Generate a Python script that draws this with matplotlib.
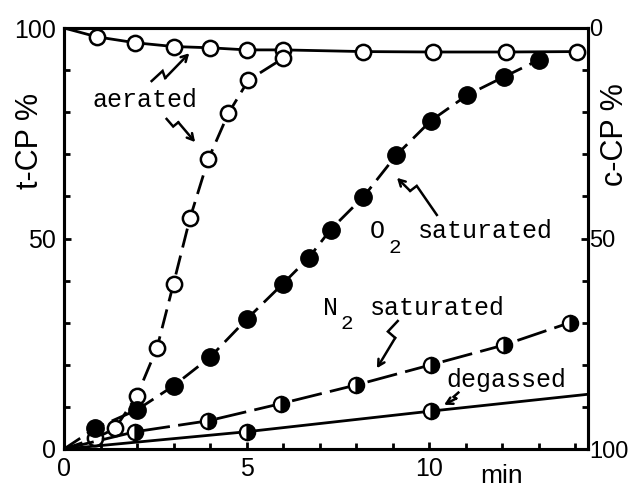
import matplotlib
matplotlib.use('Agg')
import matplotlib.pyplot as plt
from matplotlib.ticker import MultipleLocator, FixedLocator

# ---- data (time in min, percent) ----
aer_top_t = [0, 0.9, 1.95, 3.0, 4.0, 5.0, 6.0, 8.2, 10.1, 12.1, 14.05]
aer_top_v = [100, 97.9, 96.5, 95.6, 95.3, 94.8, 94.8, 94.4, 94.3, 94.3, 94.4]
aer_rise_t = [0, 0.85, 1.4, 2.0, 2.55, 3.0, 3.45, 3.95, 4.5, 5.05, 6.0]
aer_rise_v = [0, 2.5, 4.9, 12.7, 24.1, 39.3, 54.8, 68.8, 79.7, 87.6, 92.8]
o2_t = [0, 0.85, 2.0, 3.0, 4.0, 5.0, 6.0, 6.7, 7.3, 8.2, 9.1, 10.05, 11.05, 12.05, 13.0]
o2_v = [0, 4.9, 9.3, 15.0, 21.8, 30.8, 39.3, 45.4, 52.1, 59.9, 69.8, 78.0, 84.1, 88.4, 92.4]
n2_t = [0, 1.95, 3.95, 5.95, 8.0, 10.05, 12.05, 13.85]
n2_v = [0, 4.1, 6.7, 10.8, 15.2, 20.0, 24.7, 30.0]
deg_t = [0, 5.0, 10.05, 14.35]
deg_v = [0, 4.1, 9.0, 13.0]

x_ticks = [0, 5, 10]
y_ticks = [0, 50, 100]

SANS = ['Liberation Sans', 'DejaVu Sans']
MONO = ['Liberation Mono', 'DejaVu Sans Mono']

fig = plt.figure(figsize=(6.33, 4.91), dpi=100)
ax = fig.add_axes([64/633, 42/491, 524/633, 421/491])
ax.set_xlim(0, 14.35)
ax.set_ylim(0, 100)

lw = 2.0
# aerated top (open circles, solid)
ax.plot(aer_top_t, aer_top_v, '-', color='black', lw=lw, marker='o', ms=11,
        mfc='white', mec='black', mew=1.8, markevery=list(range(1, len(aer_top_t))), zorder=3)
# aerated rising (open circles, dashed)
ax.plot(aer_rise_t, aer_rise_v, color='black', lw=lw, dashes=(7, 3), marker='o', ms=11,
        mfc='white', mec='black', mew=1.8, markevery=list(range(1, len(aer_rise_t))), zorder=3)
# O2 saturated (filled, dashed)
ax.plot(o2_t, o2_v, color='black', lw=lw, dashes=(7, 3), marker='o', ms=12.5,
        mfc='black', mec='black', mew=1, markevery=list(range(1, len(o2_t))), zorder=3)
# N2 saturated (half filled, dashed)
ax.plot(n2_t, n2_v, color='black', lw=lw, dashes=(11, 3), marker='o', ms=11,
        fillstyle='right', mfc='black', mfcalt='white', mec='black', mew=1.6,
        markevery=list(range(1, len(n2_t))), zorder=3)
# degassed (half filled, solid)
ax.plot(deg_t, deg_v, '-', color='black', lw=lw, marker='o', ms=11,
        fillstyle='right', mfc='black', mfcalt='white', mec='black', mew=1.6,
        markevery=[1, 2], zorder=3)

# ---- zigzag arrows ----
arrows = [
    [(2.40, 87.4), (2.70, 89.8), (2.77, 88.1), (3.43, 94.0)],
    [(2.81, 78.4), (2.99, 76.6), (3.13, 77.6), (3.59, 72.9)],
    [(10.21, 55.6), (9.66, 62.5), (9.48, 61.3), (9.12, 64.4)],
    [(9.14, 30.4), (8.87, 27.9), (9.07, 26.4), (8.57, 19.2)],
    [(10.80, 13.4), (10.67, 12.4), (10.74, 12.0), (10.41, 10.5)],
]
for pts in arrows:
    xs = [p[0] for p in pts[:-1]]
    ys = [p[1] for p in pts[:-1]]
    ax.plot(xs, ys, '-', color='black', lw=1.8, solid_joinstyle='miter', zorder=4)
    ax.annotate('', xy=pts[-1], xytext=pts[-2],
                arrowprops=dict(arrowstyle='->,head_length=0.45,head_width=0.25',
                                lw=1.8, color='black', shrinkA=0, shrinkB=0), zorder=4)

# ---- annotation text ----
fs = 18
ax.text(2.22, 81.2, 'aerated', family=MONO, fontsize=fs, ha='center', va='baseline')
ax.text(8.38, 50.1, 'O', family=MONO, fontsize=fs, ha='left', va='baseline')
ax.text(8.88, 46.6, '2', family=MONO, fontsize=15, ha='left', va='baseline')
ax.text(9.70, 50.1, 'saturated', family=MONO, fontsize=fs, ha='left', va='baseline')
ax.text(7.10, 31.8, 'N', family=MONO, fontsize=fs, ha='left', va='baseline')
ax.text(7.56, 28.4, '2', family=MONO, fontsize=15, ha='left', va='baseline')
ax.text(8.38, 31.8, 'saturated', family=MONO, fontsize=fs, ha='left', va='baseline')
ax.text(10.48, 14.8, 'degassed', family=MONO, fontsize=fs, ha='left', va='baseline')

# ---- axes styling ----
for s in ax.spines.values():
    s.set_linewidth(2.2)

ax.xaxis.set_major_locator(FixedLocator(x_ticks))
ax.xaxis.set_minor_locator(MultipleLocator(1))
ax.yaxis.set_major_locator(FixedLocator(y_ticks))
ax.yaxis.set_minor_locator(MultipleLocator(10))
ax.tick_params(which='both', direction='in', width=2, top=False, right=False)
ax.tick_params(which='major', length=5, labelsize=18, pad=6)
ax.tick_params(which='minor', length=4)
for lab in ax.get_xticklabels() + ax.get_yticklabels():
    lab.set_family(SANS)

ax2 = ax.twinx()
ax2.set_ylim(100, 0)
ax2.yaxis.set_major_locator(FixedLocator(y_ticks))
ax2.yaxis.set_minor_locator(MultipleLocator(10))
ax2.tick_params(which='both', direction='in', width=2)
ax2.tick_params(which='major', length=5, labelsize=17, pad=1)
ax2.tick_params(which='minor', length=4)
for lab in ax2.get_yticklabels():
    lab.set_family(SANS)
for s in ax2.spines.values():
    s.set_linewidth(2.2)

fig.text(30/633, 1 - 141/491, 't-CP %', rotation=90, family=SANS, fontsize=22,
         ha='center', va='center')
fig.text(615/633, 1 - 135/491, 'c-CP %', rotation=90, family=SANS, fontsize=22,
         ha='center', va='center')
ax.text(11.97, -0.092, 'min', transform=ax.get_xaxis_transform(), family=SANS,
        fontsize=19, ha='center', va='bottom')

fig.savefig('out.png', dpi=100)
